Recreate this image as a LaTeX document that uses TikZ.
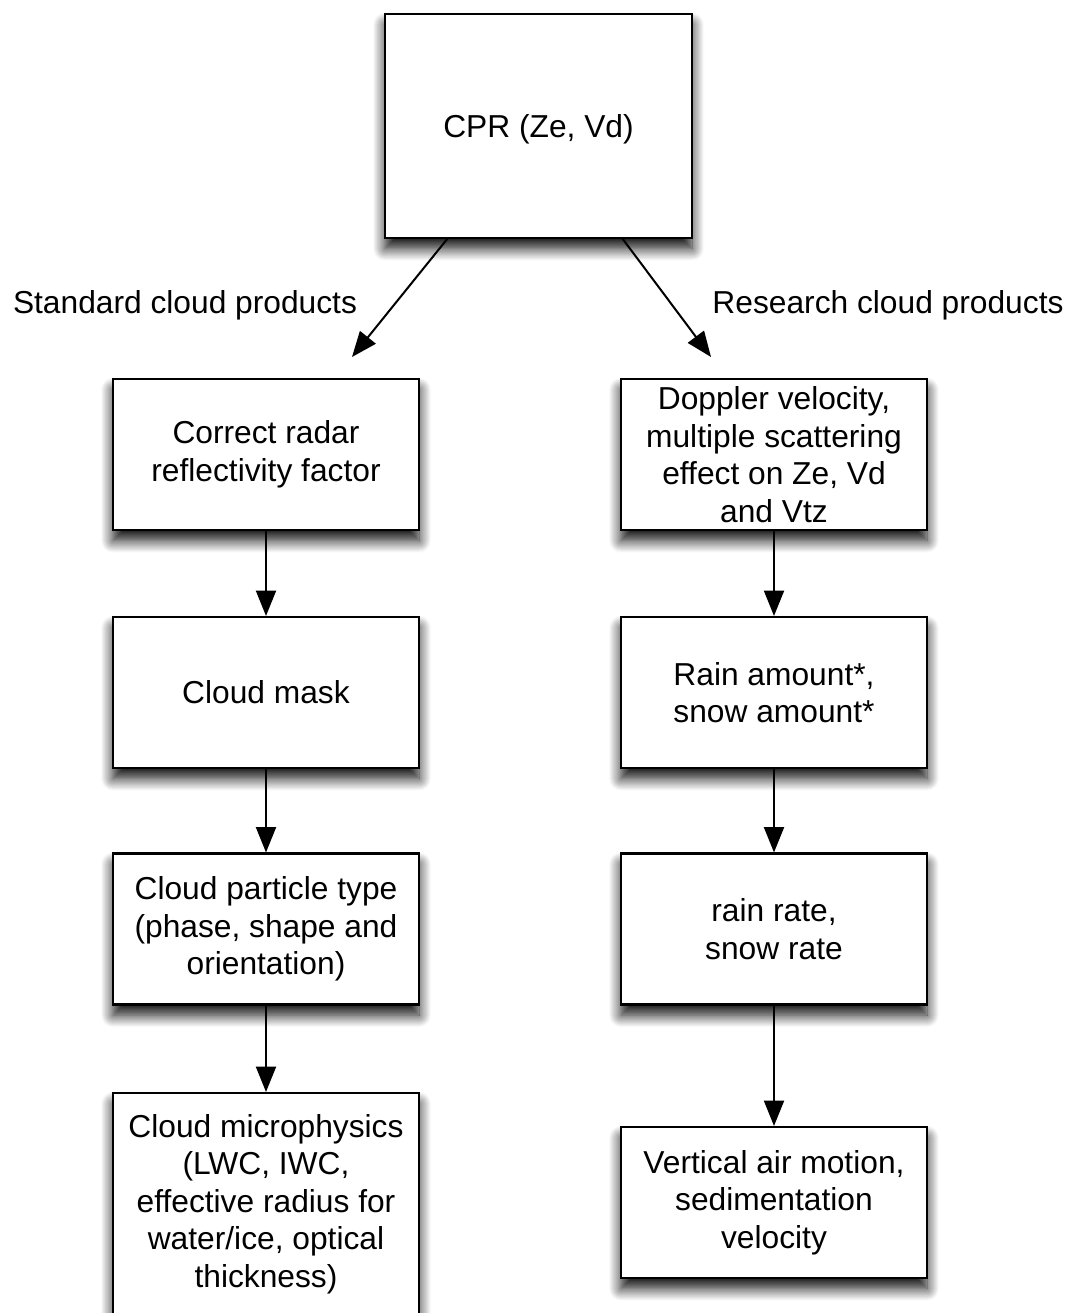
\documentclass[tikz,border=0pt]{standalone}
\usepackage{fontspec}
\setmainfont{Liberation Sans}
\usetikzlibrary{arrows.meta,shadows.blur}
\begin{document}
\begin{tikzpicture}[x=0.75pt,y=-0.75pt,
  font=\fontsize{23.8pt}{28.2pt}\selectfont,
  stepbox/.style={draw=black,line width=1.6pt,fill=white,align=center,
    minimum width=306*0.75pt,minimum height=151*0.75pt,inner sep=0pt,
    blur shadow={shadow xshift=0pt,shadow yshift=-8pt,shadow blur radius=9pt,
      shadow blur steps=12,shadow opacity=95}},
  flow/.style={draw=black,line width=1.5pt,-{Triangle[length=19pt,width=15pt]}},
  caption/.style={inner sep=0pt,anchor=center}]
  \useasboundingbox (0,0) rectangle (1070,1313);
  \clip (0,0) rectangle (1070,1313);

  % source instrument
  \node[stepbox,minimum height=224*0.75pt,minimum width=307*0.75pt] (cpr) at (538.5,126)
    {\raisebox{-2.5pt}[\height][\depth]{CPR (Ze, Vd)}};

  % standard products column
  \node[stepbox] (l1) at (266,454.5) {Correct radar\\reflectivity factor};
  \node[stepbox] (l2) at (266,692.5) {Cloud mask};
  \node[stepbox] (l3) at (266,929) {Cloud particle type\\(phase, shape and\\orientation)};
  \node[stepbox,minimum height=222*0.75pt] (l4) at (266,1204) {Cloud microphysics\\(LWC, IWC,\\effective radius for\\water/ice, optical\\thickness)};

  % research products column
  \node[stepbox] (r1) at (774,454.5) {Doppler velocity,\\multiple scattering\\effect on Ze, Vd\\and Vtz};
  \node[stepbox] (r2) at (774,692.5) {Rain amount*,\\snow amount*};
  \node[stepbox] (r3) at (774,929) {rain rate,\\snow rate};
  \node[stepbox] (r4) at (774,1202.5) {Vertical air motion,\\sedimentation\\velocity};

  % branch labels
  \node[caption] (std) at (185,305) {Standard cloud products};
  \node[caption] (res) at (888,305) {Research cloud products};

  % branch arrows
  \coordinate (lsplit) at (448,238);
  \coordinate (rsplit) at (622,238);
  \coordinate (lend) at (352,357);
  \coordinate (rend) at (711,357);
  \draw[flow] (lsplit) -- (lend);
  \draw[flow] (rsplit) -- (rend);

  % flow within columns
  \draw[flow] (l1) -- (l2);
  \draw[flow] (l2) -- (l3);
  \draw[flow] (l3) -- (l4);
  \draw[flow] (r1) -- (r2);
  \draw[flow] (r2) -- (r3);
  \draw[flow] (r3) -- (r4);
\end{tikzpicture}
\end{document}
